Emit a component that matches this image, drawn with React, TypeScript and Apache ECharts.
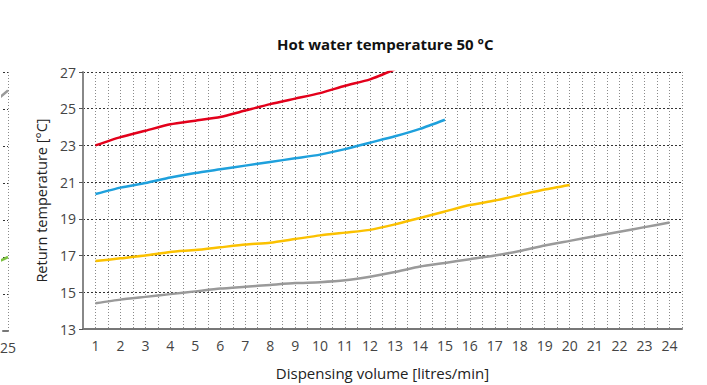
import React, { useEffect, useRef } from "react";
import * as echarts from "echarts";

const TITLE = "Hot water temperature 50 °C";
const X_NAME = "Dispensing volume [litres/min]";
const Y_NAME = "Return temperature [°C]";

const xValues = [1, 2, 3, 4, 5, 6, 7, 8, 9, 10, 11, 12, 13, 14, 15, 16, 17, 18, 19, 20, 21, 22, 23, 24];

const redValues = [23.0, 23.45, 23.8, 24.15, 24.35, 24.55, 24.9, 25.25, 25.55, 25.85, 26.25, 26.6, 27.15];
const blueValues = [20.35, 20.7, 20.95, 21.25, 21.5, 21.7, 21.9, 22.1, 22.3, 22.5, 22.8, 23.15, 23.5, 23.9, 24.4];
const yellowValues = [16.7, 16.85, 17.0, 17.2, 17.3, 17.45, 17.6, 17.7, 17.9, 18.1, 18.25, 18.4, 18.7, 19.05, 19.4, 19.75, 20.0, 20.3, 20.6, 20.85];
const greyValues = [14.4, 14.6, 14.75, 14.9, 15.05, 15.2, 15.3, 15.4, 15.5, 15.55, 15.65, 15.85, 16.1, 16.4, 16.6, 16.8, 17.0, 17.25, 17.55, 17.8, 18.05, 18.3, 18.55, 18.8];

// neighbouring (cut-off) chart on the left
const leftX = [23, 24, 25];
const leftGreyValues = [24.6, 25.3, 26.0];
const leftGreenValues = [16.25, 16.6, 17.0];
const leftXMin = 24.68;
const leftXMax = 25;

const pairs = (xs: number[], ys: number[]) => ys.map((y, i) => [xs[i], y]);

const FONT = "'Open Sans', Lato, sans-serif";

export default function App() {
  const ref = useRef<HTMLDivElement>(null);
  useEffect(() => {
    if (!ref.current) return;
    const chart = echarts.init(ref.current, undefined, { renderer: "svg" });
    const hSplit = { show: true, lineStyle: { color: "#333", width: 1, type: [2, 2] as any } };
    const vSplit = { show: true, lineStyle: { color: "#8a8a8a", width: 1, type: [1, 2] as any } };
    const mkLine = (data: number[][], color: string, xi = 0) => ({
      type: "line",
      xAxisIndex: xi,
      yAxisIndex: xi,
      data,
      showSymbol: false,
      smooth: 0.2,
      clip: true,
      lineStyle: { color, width: 2.5 },
      itemStyle: { color },
      z: 5,
    });
    chart.setOption({
      animation: false,
      textStyle: { fontFamily: FONT },
      title: {
        text: TITLE,
        left: 272,
        top: 31,
        textStyle: { fontSize: 15, fontWeight: "bold", color: "#111", fontFamily: FONT },
      },
      grid: [
        { left: 83, right: 25, top: 72, bottom: 54 },
        { left: 0, width: 8, top: 72, bottom: 54 },
      ],
      xAxis: [
        {
          type: "value",
          gridIndex: 0,
          min: 0.5,
          max: 24.5,
          interval: 0.5,
          name: X_NAME,
          nameLocation: "middle",
          nameGap: 36,
          nameTextStyle: { fontSize: 15, color: "#222", fontFamily: FONT },
          axisLine: { show: true, lineStyle: { color: "#777", width: 2 } },
          axisTick: { show: false },
          axisLabel: {
            fontSize: 14,
            color: "#444",
            margin: 9,
            fontFamily: FONT,
            formatter: (v: number) => (Number.isInteger(v) ? String(v) : ""),
          },
          splitLine: vSplit,
        },
        {
          type: "value",
          gridIndex: 1,
          min: leftXMin,
          max: leftXMax,
          interval: leftXMax - leftXMin,
          axisLine: { show: true, lineStyle: { color: "#777", width: 2 } },
          axisTick: { show: false },
          axisLabel: {
            fontSize: 14,
            color: "#444",
            margin: 9,
            fontFamily: FONT,
            formatter: (v: number) => (Math.abs(v - leftXMax) < 1e-6 ? String(leftXMax) : ""),
          },
          splitLine: { ...vSplit, showMinLine: false },
        },
      ],
      yAxis: [
        {
          type: "value",
          gridIndex: 0,
          min: 13,
          max: 27,
          interval: 2,
          name: Y_NAME,
          nameLocation: "middle",
          nameGap: 34,
          nameTextStyle: { fontSize: 14.5, color: "#222", fontFamily: FONT },
          axisLine: { show: true, lineStyle: { color: "#888", width: 2 } },
          axisTick: { show: true, length: 4, lineStyle: { color: "#555", width: 1 } },
          axisLabel: { fontSize: 14, color: "#444", margin: 7, fontFamily: FONT },
          splitLine: hSplit,
        },
        {
          type: "value",
          gridIndex: 1,
          min: 13,
          max: 27,
          interval: 2,
          axisLine: { show: false },
          axisTick: { show: false },
          axisLabel: { show: false },
          splitLine: hSplit,
        },
      ],
      series: [
        mkLine(pairs(xValues, greyValues), "#9a9a9a"),
        mkLine(pairs(xValues, yellowValues), "#fbc100"),
        mkLine(pairs(xValues, blueValues), "#1ea0dc"),
        mkLine(pairs(xValues, redValues), "#e3001b"),
        mkLine(pairs(leftX, leftGreyValues), "#9a9a9a", 1),
        mkLine(pairs(leftX, leftGreenValues), "#7cc142", 1),
      ],
    });
    return () => chart.dispose();
  }, []);
  return <div ref={ref} style={{ width: 707, height: 385, position: "absolute", left: 0, top: 0 }} />;
}
